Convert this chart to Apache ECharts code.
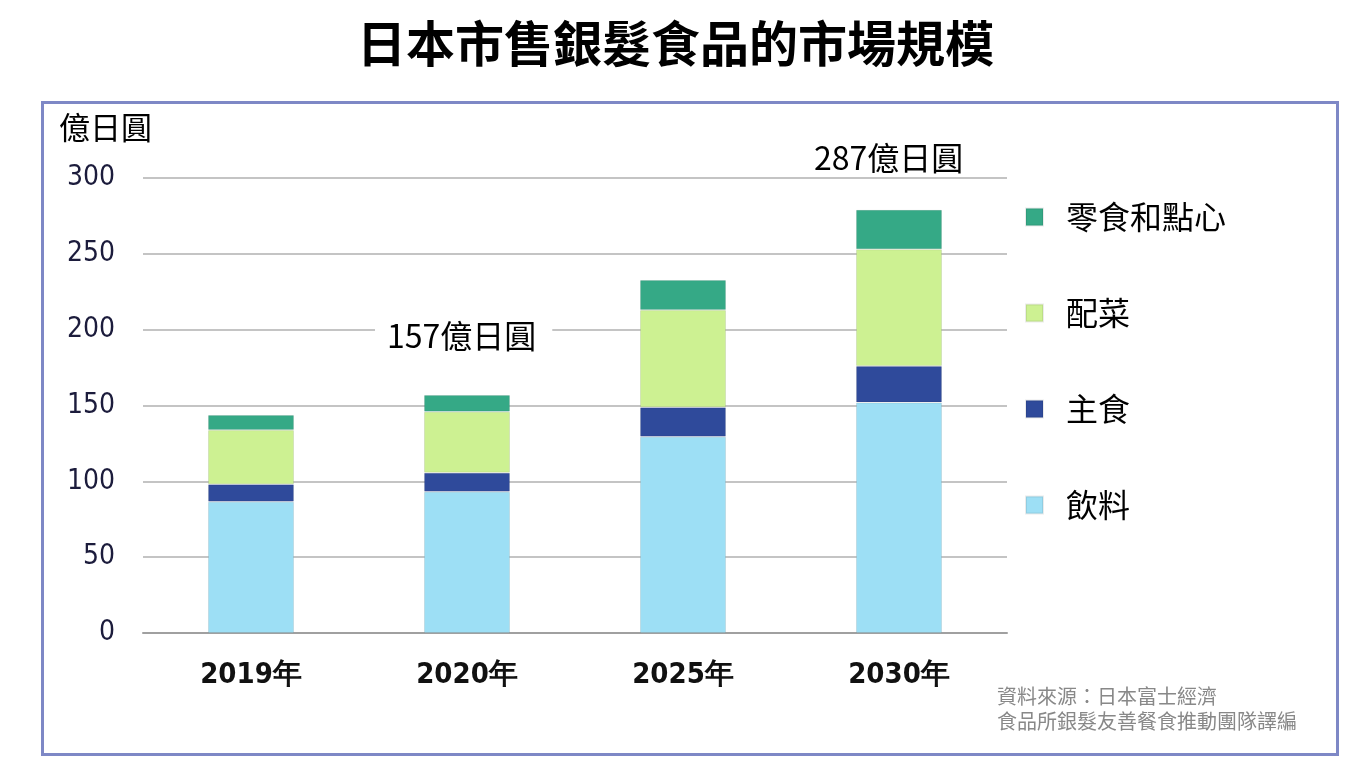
<!DOCTYPE html>
<html>
<head>
<meta charset="utf-8">
<script src="https://cdn.jsdelivr.net/npm/echarts@6/dist/echarts.min.js"></script>
<style>
  html, body { margin: 0; padding: 0; background: #fff; }
  #main { width: 1351px; height: 763px; }
</style>
</head>
<body>
<div id="main"></div>
<script>
var years = ['2019年', '2020年', '2025年', '2030年'];
var drinks = [86.6, 93.1, 129.4, 152];
var staple = [11.4, 12.6, 19.4, 24];
var sideDish = [35.8, 40.2, 64.1, 77];
var snacks = [9.9, 11, 19.8, 26];
var yTicks = [0, 50, 100, 150, 200, 250, 300];

var cjk = '"Noto Sans CJK TC", "Noto Sans CJK SC", sans-serif';
var narrow = '"DejaVu Sans Condensed", "Liberation Sans Narrow", "Liberation Sans", sans-serif';

var chart = echarts.init(document.getElementById('main'));

function barSeries(name, data, color) {
        return {
                name: name,
                type: 'bar',
                stack: 'total',
                barWidth: 86,
                data: data,
                itemStyle: { color: color, borderColor: 'rgba(0,0,0,0.08)', borderWidth: 1 }
        };
}

chart.setOption({
        animation: false,
        title: {
                text: '日本市售銀髮食品的市場規模',
                left: 'center',
                top: 14,
                textStyle: { fontFamily: cjk, fontSize: 49, fontWeight: 'bold', color: '#000' }
        },
        legend: {
                orient: 'vertical',
                left: 1020,
                top: 196,
                itemWidth: 17,
                itemHeight: 17,
                itemGap: 64,
                icon: 'rect',
                data: ['零食和點心', '配菜', '主食', '飲料'],
                textStyle: { fontFamily: cjk, fontSize: 32, color: '#000', padding: [0, 0, 0, 18] }
        },
        grid: { left: 143, right: 344, top: 178, bottom: 130 },
        xAxis: {
                type: 'category',
                data: years,
                axisLine: { lineStyle: { color: '#a0a0a0', width: 2 } },
                axisTick: { show: false },
                axisLabel: { fontFamily: narrow, fontSize: 29, fontWeight: 'bold', color: '#111', margin: 28 }
        },
        yAxis: {
                type: 'value',
                min: 0,
                max: 300,
                interval: 50,
                axisLine: { show: false },
                axisTick: { show: false },
                splitLine: { lineStyle: { color: '#c4c4c4', width: 2 } },
                axisLabel: {
                        fontFamily: narrow, fontSize: 28, color: '#1c1c3c', margin: 28,
                        formatter: function (v) { return yTicks.indexOf(v) >= 0 ? String(v) : ''; }
                }
        },
        graphic: [
                { type: 'rect', left: 40, top: 100, shape: { width: 1295, height: 652 },
                  style: { fill: 'none', stroke: '#7e88c6', lineWidth: 3 }, z: 0 },
                { type: 'text', left: 59, top: 112,
                  style: { text: '億日圓', font: '31px ' + cjk, fill: '#000' } },
                { type: 'text', left: 375, top: 318, z: 10,
                  style: { text: '157億日圓', font: '32px ' + cjk, fill: '#000',
                           backgroundColor: '#fff', padding: [2, 16, 2, 12] } },
                { type: 'text', left: 800, top: 140, z: 10,
                  style: { text: '287億日圓', font: '32px ' + cjk, fill: '#000',
                           backgroundColor: '#fff', padding: [2, 18, 2, 14] } },
                { type: 'text', left: 997, top: 684,
                  style: { text: '資料來源：日本富士經濟\n食品所銀髮友善餐食推動團隊譯編',
                           font: '20px ' + cjk, fill: '#888', lineHeight: 25 } }
        ],
        series: [
                barSeries('飲料', drinks, '#9ddff5'),
                barSeries('主食', staple, '#2f4a9b'),
                barSeries('配菜', sideDish, '#cdf192'),
                barSeries('零食和點心', snacks, '#35a986')
        ]
});
</script>
</body>
</html>
